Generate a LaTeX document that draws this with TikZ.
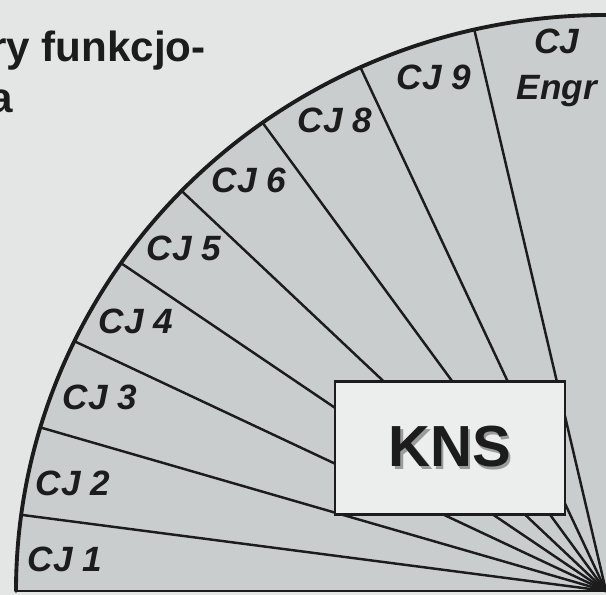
\documentclass[tikz,border=0pt]{standalone}
\usepackage{fontspec}
\setmainfont{Liberation Sans}
\usetikzlibrary{calc}
\definecolor{knpaper}{HTML}{E4E6E6}
\definecolor{knfan}{HTML}{CACDCE}
\definecolor{knpanel}{HTML}{ECEEEE}
\definecolor{knink}{HTML}{1C1C1C}
\definecolor{knshadow}{HTML}{9A9C9C}
\newcommand{\knshadowed}[1]{%
  \rlap{\textcolor{knshadow}{\kern1.3pt\raisebox{-1.3pt}{#1}}}#1}
\tikzset{
  knrim/.style={draw=knink, line width=2.2pt},
  knray/.style={draw=knink, line width=1.4pt},
  knbox/.style={
    draw=knink, fill=knpanel, line width=1.6pt,
    minimum width=4.6cm, minimum height=2.66cm, inner sep=0pt},
  knlabel/.style={
    font=\fontsize{20}{26}\selectfont\bfseries\itshape,
    text=knink, align=center},
  kntitle/.style={
    font=\fontsize{24}{28}\selectfont\bfseries, text=knink,
    anchor=base east},
  every picture/.style={line cap=round},
}

\begin{document}
\begin{tikzpicture}[x=0.02cm, y=0.02cm]

% Page and margins.
\useasboundingbox (0, 0) rectangle (606, 595);
\fill[knpaper] (0, 0) rectangle (606, 595);

% Header, cut off at the left edge.
\node[kntitle] (head1) at (212, 533) {ry funkcjo-};
\node[kntitle] (head2) at (19, 482) {a};

% The quarter disc.
\coordinate (hub) at (606, 4);
\coordinate (rim0) at (16, 4);
\fill[knfan] (hub) -- (rim0)
  arc[start angle=180, end angle=90, x radius=590, y radius=576] -- cycle;

% Spokes between the sectors.
\foreach \t [count=\i] in {7.6, 16.5, 25.7, 34.7, 44.0, 54.4, 65.4, 77.1} {
  \coordinate (rim\i) at ({606 - 590*cos(\t)}, {4 + 576*sin(\t)});
  \draw[knray] (hub) -- (rim\i);
}
\draw[knray] (hub) -- (rim0);
\draw[knrim] (rim0)
  arc[start angle=180, end angle=88, x radius=590, y radius=576];

% Sector labels.
\node[knlabel] (cj1) at (65, 36) {CJ 1};
\node[knlabel] (cj2) at (73, 112) {CJ 2};
\node[knlabel] (cj3) at (100, 198) {CJ 3};
\node[knlabel] (cj4) at (136, 274) {CJ 4};
\node[knlabel] (cj5) at (184, 347) {CJ 5};
\node[knlabel] (cj6) at (249, 415) {CJ 6};
\node[knlabel] (cj8) at (335, 475) {CJ 8};
\node[knlabel] (cj9) at (434, 518) {CJ 9};
\node[knlabel] (cjengr) at (557, 527) {CJ\\Engr};

% The box at the hub.
\node[knbox, font=\fontsize{33}{36}\selectfont\bfseries, text=knink]
  (kns) at (450, 147) {\knshadowed{KNS}};

\end{tikzpicture}
\end{document}
